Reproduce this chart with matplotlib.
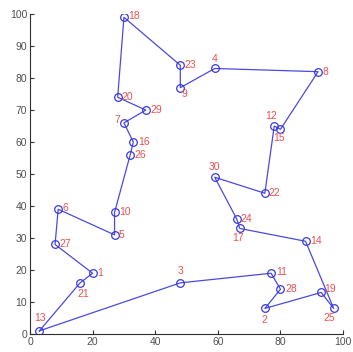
import numpy as np
import matplotlib
matplotlib.use('Agg')
import matplotlib.pyplot as plt

plt.rcParams['font.family'] = ['Liberation Sans', 'DejaVu Sans']

# city coordinates, index = city number - 1
city_x = [20, 75, 48, 59, 27, 9, 30, 92, 48, 27, 77, 78, 3, 88, 80,
          33, 67, 30, 93, 28, 16, 75, 48, 66, 97, 32, 8, 80, 37, 59]
city_y = [19, 8, 16, 83, 31, 39, 66, 82, 77, 38, 19, 65, 1, 29, 64,
          60, 33, 99, 13, 74, 16, 44, 84, 36, 8, 56, 28, 14, 70, 49]

# tour order (city numbers), closed loop
tour = [13, 21, 1, 27, 6, 5, 10, 26, 16, 7, 29, 20, 18, 23, 9, 4, 8,
        15, 12, 22, 30, 24, 17, 14, 25, 19, 2, 28, 11, 3, 13]

# label offsets in data units (dx, dy, ha, va)
label_pos = {
    1: (1.5, 0, 'left', 'center'), 2: (0, -2, 'center', 'top'),
    3: (0, 2, 'center', 'bottom'), 4: (0, 1.5, 'center', 'bottom'),
    5: (1.3, 0, 'left', 'center'), 6: (1.3, 0.3, 'left', 'center'),
    7: (-1.3, 1, 'right', 'center'), 8: (1.3, 0, 'left', 'center'),
    9: (0.3, -0.3, 'left', 'top'), 10: (1.5, 0, 'left', 'center'),
    11: (1.5, 0.3, 'left', 'center'), 12: (-1, 1.5, 'center', 'bottom'),
    13: (0.3, 2.5, 'center', 'bottom'), 14: (1.5, 0, 'left', 'center'),
    15: (-0.5, -1.3, 'center', 'top'), 16: (1.5, 0, 'left', 'center'),
    17: (-0.5, -1.5, 'center', 'top'), 18: (1.5, 0.3, 'left', 'center'),
    19: (1.0, 1.2, 'left', 'center'), 20: (1.3, 0, 'left', 'center'),
    21: (1, -2, 'center', 'top'), 22: (1.3, 0, 'left', 'center'),
    23: (1.3, 0, 'left', 'center'), 24: (1.3, 0, 'left', 'center'),
    25: (-1.5, -1.5, 'center', 'top'), 26: (1.3, 0, 'left', 'center'),
    27: (1.3, 0, 'left', 'center'), 28: (1.5, 0, 'left', 'center'),
    29: (1.5, 0, 'left', 'center'), 30: (0, 1.5, 'center', 'bottom'),
}

fig = plt.figure(figsize=(3.53, 3.52), dpi=100)
ax = fig.add_axes([0.085, 0.051, 0.887, 0.909])

tx = [city_x[c - 1] for c in tour]
ty = [city_y[c - 1] for c in tour]
ax.plot(tx, ty, '-', color='#4a4ae0', lw=0.9)
ax.plot(city_x, city_y, 'o', mfc='none', mec='#3a3ae0', ms=5.5, mew=0.9)

for i in range(len(city_x)):
    dx, dy, ha, va = label_pos[i + 1]
    ax.text(city_x[i] + dx, city_y[i] + dy, str(i + 1), color='#ea5050',
            fontsize=7.5, ha=ha, va=va)

ax.set_xlim(0, 100)
ax.set_ylim(0, 100)
ax.set_xticks(np.arange(0, 101, 20))
ax.set_yticks(np.arange(0, 101, 10))
ax.spines['top'].set_visible(False)
ax.spines['right'].set_visible(False)
for s in ['left', 'bottom']:
    ax.spines[s].set_color('#303030')
    ax.spines[s].set_linewidth(0.8)
ax.tick_params(direction='in', length=3, width=0.8, labelsize=7.5,
               labelcolor='#505050', color='#303030', pad=2)

fig.savefig('out.png', dpi=100)
